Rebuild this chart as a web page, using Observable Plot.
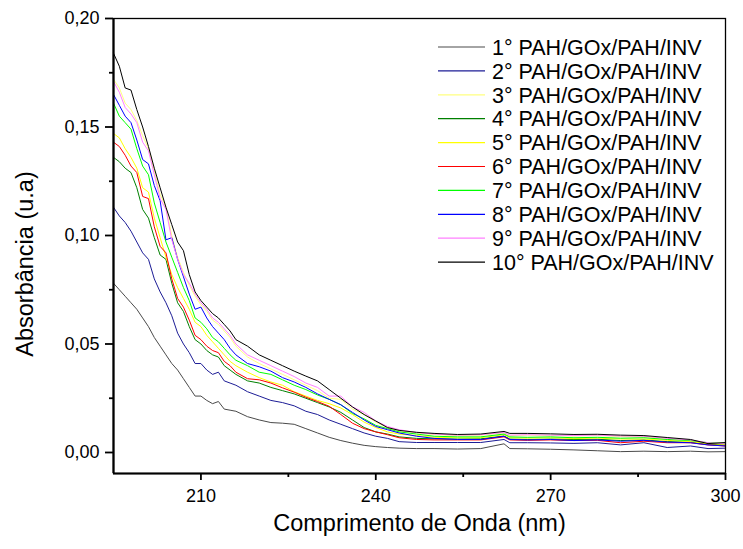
<!DOCTYPE html>
<html><head><meta charset="utf-8">
<script src="https://cdn.jsdelivr.net/npm/d3@7"></script>
<script src="https://cdn.jsdelivr.net/npm/@observablehq/plot@0.6"></script>
<style>
body{margin:0;background:#fff;}
svg{font-family:"Liberation Sans",Arial,sans-serif;}
</style>
</head><body><div id="chart"></div>
<script>
const wavelength = [195,196,197,198,199,200,201,202,203,204, 205,206,207,208,209,210,211,212,213,214, 215,216,218,220,222,224,226,228,230,232, 234,236,238,240,242,244,247,250,254,258, 262,263,266,270,274,278,282,286,290,294, 297,300];

const abs1 = [.078,.075,.072,.069,.066,.062,.058,.053,.049,.045, .041,.038,.034,.030,.026,.026,.024,.0225,.0235,.020, .0195,.019,.0165,.015,.0138,.0135,.013,.011,.009,.007, .0055,.0043,.0033,.0027,.0023,.002,.0018,.0018,.0016,.0018, .004,.0018,.0017,.0015,.0012,.0008,.0004,.0006,.0004,.0006, .0003,.0004];
const abs2 = [.113,.109,.106,.102,.097,.092,.089,.080,.074,.069, .063,.055,.050,.046,.041,.041,.038,.036,.037,.033, .032,.031,.028,.026,.024,.023,.0215,.019,.0175,.015, .013,.011,.009,.0075,.0065,.005,.0046,.0046,.0046,.0046, .006,.0045,.0045,.0044,.0042,.0045,.0035,.0045,.0023,.003, .0018,.002];
const abs3 = [.172,.168,.161,.158,.153,.146,.140,.130,.119,.113, .100,.090,.083,.077,.072,.068,.065,.061,.059,.056, .053,.049,.044,.041,.0385,.036,.0335,.031,.0285,.025, .0245,.020,.0175,.014,.0115,.010,.009,.0083,.0078,.008, .009,.0078,.008,.0078,.0076,.0078,.0074,.0073,.0063,.0056, .0043,.004];
const abs4 = [.136,.134,.131,.129,.122,.112,.108,.099,.091,.089, .078,.069,.065,.058,.052,.050,.047,.045,.044,.040, .038,.036,.033,.032,.030,.0285,.027,.025,.023,.021, .0185,.015,.0115,.0095,.0085,.0072,.0065,.0063,.0062,.0063, .0076,.0062,.006,.0062,.006,.0061,.0055,.0058,.005,.0048, .0038,.0035];
const abs5 = [.147,.145,.140,.136,.131,.122,.120,.108,.099,.090, .082,.076,.071,.066,.060,.058,.054,.051,.048,.045, .042,.040,.037,.0345,.0325,.031,.028,.026,.024,.0225, .0205,.0175,.014,.0115,.0095,.0085,.0078,.007,.0068,.0068, .0082,.0068,.0066,.0068,.0064,.0066,.0062,.0062,.0056,.005, .004,.0038];
const abs6 = [.143,.141,.137,.132,.129,.118,.117,.104,.095,.092, .080,.071,.067,.061,.054,.052,.049,.047,.046,.042, .040,.037,.034,.0335,.032,.0298,.0278,.0255,.0235,.0213, .0175,.0135,.011,.0095,.0082,.0068,.006,.0058,.0058,.0058, .0072,.0058,.0056,.0058,.0055,.0056,.0045,.0052,.0045,.0045, .0035,.003];
const abs7 = [.161,.155,.152,.149,.140,.132,.128,.115,.106,.097, .090,.083,.076,.070,.062,.060,.057,.053,.051,.048, .045,.0425,.040,.037,.036,.0335,.031,.029,.0265,.0245, .022,.018,.0155,.0125,.011,.0095,.0085,.0075,.0072,.0072, .0085,.0072,.007,.0072,.0068,.007,.0066,.0068,.006,.0055, .0045,.0042];
const abs8 = [.165,.160,.155,.152,.144,.135,.133,.123,.116,.098, .099,.089,.081,.073,.066,.067,.062,.058,.055,.052, .048,.045,.041,.0395,.0375,.0345,.0325,.030,.027,.0245, .022,.0185,.015,.012,.0105,.009,.0075,.0065,.006,.006, .0075,.006,.0058,.006,.0055,.0058,.0052,.0056,.0048,.0045, .0035,.003];
const abs9 = [.171,.166,.159,.156,.152,.143,.139,.128,.117,.112, .098,.089,.082,.078,.073,.069,.066,.062,.060,.057, .054,.050,.045,.0425,.040,.0375,.035,.032,.030,.026, .026,.021,.0185,.0145,.012,.0105,.0092,.0085,.008,.0082, .0092,.008,.0082,.008,.0078,.008,.0076,.0075,.0065,.0058, .0045,.004];
const abs10 = [.184,.178,.168,.167,.158,.150,.141,.131,.122,.113, .105,.097,.093,.082,.074,.070,.067,.064,.062,.059, .056,.052,.049,.045,.0425,.040,.0375,.0352,.033,.029, .025,.021,.0175,.0145,.0115,.0102,.0093,.0088,.0083,.0085, .0097,.0088,.0088,.0086,.0083,.0084,.008,.0078,.0069,.006, .0041,.0046];

const seriesLabels = ["1° PAH/GOx/PAH/INV","2° PAH/GOx/PAH/INV","3° PAH/GOx/PAH/INV","4° PAH/GOx/PAH/INV","5° PAH/GOx/PAH/INV","6° PAH/GOx/PAH/INV","7° PAH/GOx/PAH/INV","8° PAH/GOx/PAH/INV","9° PAH/GOx/PAH/INV","10° PAH/GOx/PAH/INV"];
const xTicks = [210,240,270,300];
const xMinorTicks = [225,255,285];
const yTicks = [0,0.05,0.10,0.15,0.20];
const yMinorTicks = [0.025,0.075,0.125,0.175];
const xDomain = [195,300];
const yDomain = [-0.00968,0.20];
const xTitle = "Comprimento de Onda (nm)";
const yTitle = "Absorbância (u.a)";

const seriesColors = ["#4a4a4a","#1c1c96","#ffff80","#008000","#ffff00","#ff0000","#00ff00","#0000ff","#ff80ff","#000000"];

const allSeries = [abs1,abs2,abs3,abs4,abs5,abs6,abs7,abs8,abs9,abs10];
const rows = [];
allSeries.forEach((vals,i)=>vals.forEach((v,j)=>rows.push({w:wavelength[j],a:v,s:seriesLabels[i]})));

const comma = d => d3.format(".2f")(d).replace(".", ",");

const plot = Plot.plot({
  width:743, height:549,
  marginLeft:113, marginRight:18, marginTop:18, marginBottom:76,
  style:{fontFamily:"Liberation Sans, Arial, sans-serif", fontSize:"18px", color:"black", background:"white"},
  x:{domain:xDomain},
  y:{domain:yDomain},
  color:{domain:seriesLabels, range:seriesColors},
  marks:[
    Plot.line(rows,{x:"w",y:"a",z:"s",stroke:"s",strokeWidth:1}),
    Plot.frame({stroke:"black",strokeWidth:1.3}),
    Plot.ruleX([xDomain[0]],{stroke:"black",strokeWidth:2.2}),
    Plot.ruleY([yDomain[0]],{stroke:"black",strokeWidth:2.2}),
    Plot.axisX({ticks:xTicks,tickSize:7,tickPadding:9,tickFormat:"d",label:null,strokeWidth:1.8,fontSize:18}),
    Plot.axisX({ticks:xMinorTicks,tickSize:4,tickFormat:()=>"",label:null,strokeWidth:1.8}),
    Plot.axisY({ticks:yTicks,tickSize:8,tickPadding:6,tickFormat:comma,label:null,strokeWidth:1.8,fontSize:18}),
    Plot.axisY({ticks:yMinorTicks,tickSize:4,tickFormat:()=>"",label:null,strokeWidth:1.8}),
    Plot.text([xTitle],{frameAnchor:"bottom",dy:57,fontSize:23.5,textAnchor:"middle"}),
    Plot.text([yTitle],{frameAnchor:"left",dx:-88,dy:18,rotate:-90,fontSize:23.5,textAnchor:"middle"})
  ]
});

// legend inside the plot area
const svg = d3.select(plot);
const lg = svg.append("g").attr("font-size",21.5).attr("text-anchor","start").attr("font-family","Liberation Sans, Arial, sans-serif");
seriesLabels.forEach((lab,i)=>{
  const y = 47 + i*23.9;
  lg.append("line").attr("x1",438).attr("x2",485).attr("y1",y).attr("y2",y)
    .attr("stroke",seriesColors[i]).attr("stroke-width",1.2);
  lg.append("text").attr("x",492).attr("y",y).attr("dy","0.36em").attr("fill","black").text(lab);
});

document.getElementById("chart").appendChild(plot);
</script>
</body></html>
